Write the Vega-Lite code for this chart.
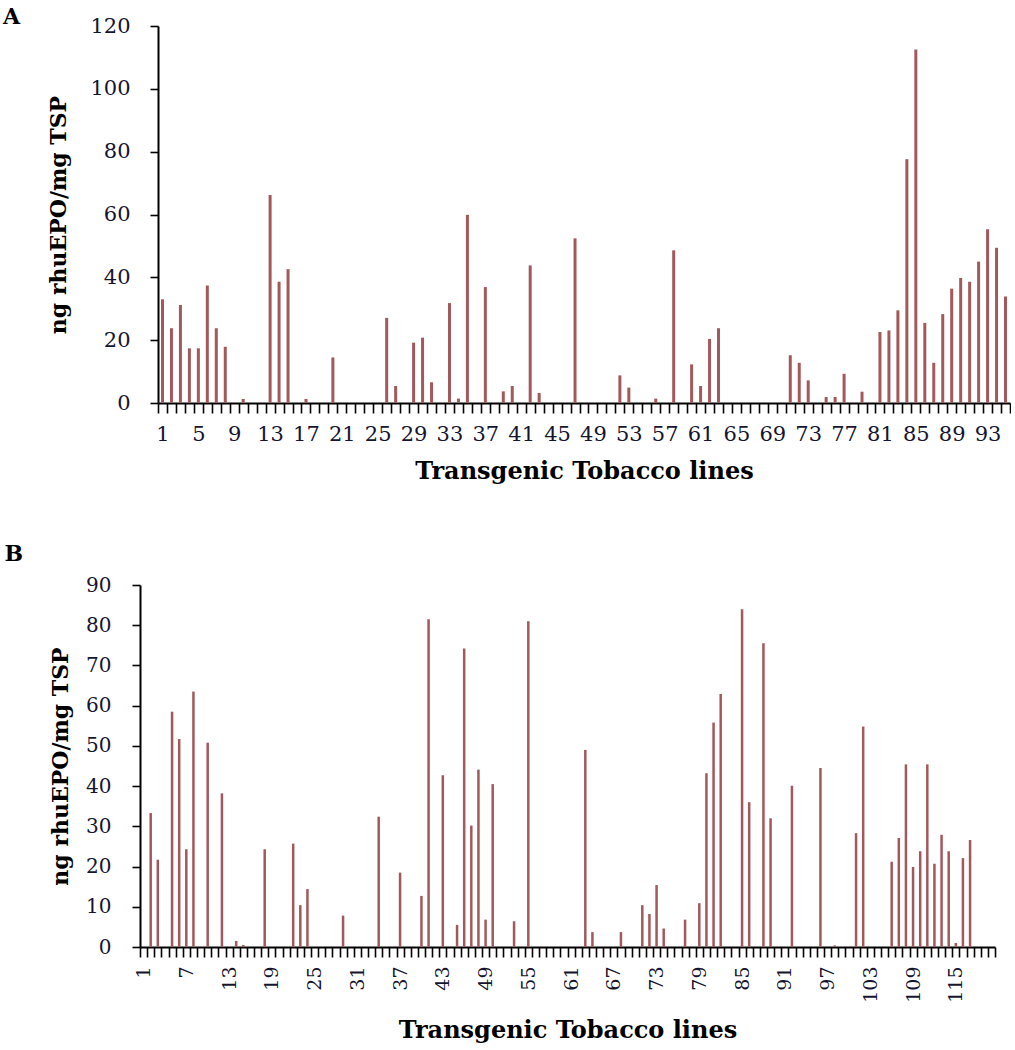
{
  "$schema": "https://vega.github.io/schema/vega-lite/v6.json",
  "padding": {"left": 2, "top": 6, "right": 0, "bottom": 0},
  "background": "white",
  "config": {
    "view": {"stroke": null},
    "font": "DejaVu Serif",
    "axis": {
      "grid": false,
      "domainColor": "#000000",
      "domainWidth": 2,
      "tickColor": "#000000",
      "tickWidth": 1.6,
      "labelColor": "#151530",
      "labelFont": "DejaVu Serif",
      "titleFont": "DejaVu Serif",
      "titleFontWeight": "bold",
      "titleColor": "#000000"
    }
  },
  "datasets": {
    "a": [
      {"line": 1, "value": 33.0}, {"line": 2, "value": 23.8}, {"line": 3, "value": 31.2}, {"line": 4, "value": 17.4},
      {"line": 5, "value": 17.4}, {"line": 6, "value": 37.4}, {"line": 7, "value": 23.8}, {"line": 8, "value": 17.9},
      {"line": 9, "value": 0}, {"line": 10, "value": 1.3}, {"line": 11, "value": 0}, {"line": 12, "value": 0},
      {"line": 13, "value": 66.2}, {"line": 14, "value": 38.6}, {"line": 15, "value": 42.6}, {"line": 16, "value": 0},
      {"line": 17, "value": 1.3}, {"line": 18, "value": 0}, {"line": 19, "value": 0}, {"line": 20, "value": 14.5},
      {"line": 21, "value": 0}, {"line": 22, "value": 0}, {"line": 23, "value": 0}, {"line": 24, "value": 0},
      {"line": 25, "value": 0}, {"line": 26, "value": 27.1}, {"line": 27, "value": 5.4}, {"line": 28, "value": 0},
      {"line": 29, "value": 19.2}, {"line": 30, "value": 20.8}, {"line": 31, "value": 6.6}, {"line": 32, "value": 0},
      {"line": 33, "value": 31.8}, {"line": 34, "value": 1.4}, {"line": 35, "value": 59.9}, {"line": 36, "value": 0},
      {"line": 37, "value": 36.9}, {"line": 38, "value": 0}, {"line": 39, "value": 3.7}, {"line": 40, "value": 5.4},
      {"line": 41, "value": 0}, {"line": 42, "value": 43.8}, {"line": 43, "value": 3.2}, {"line": 44, "value": 0},
      {"line": 45, "value": 0}, {"line": 46, "value": 0}, {"line": 47, "value": 52.4}, {"line": 48, "value": 0},
      {"line": 49, "value": 0}, {"line": 50, "value": 0}, {"line": 51, "value": 0}, {"line": 52, "value": 8.8},
      {"line": 53, "value": 4.9}, {"line": 54, "value": 0}, {"line": 55, "value": 0}, {"line": 56, "value": 1.4},
      {"line": 57, "value": 0}, {"line": 58, "value": 48.6}, {"line": 59, "value": 0}, {"line": 60, "value": 12.3},
      {"line": 61, "value": 5.4}, {"line": 62, "value": 20.4}, {"line": 63, "value": 23.8}, {"line": 64, "value": 0},
      {"line": 65, "value": 0}, {"line": 66, "value": 0}, {"line": 67, "value": 0}, {"line": 68, "value": 0},
      {"line": 69, "value": 0}, {"line": 70, "value": 0}, {"line": 71, "value": 15.2}, {"line": 72, "value": 12.8},
      {"line": 73, "value": 7.2}, {"line": 74, "value": 0}, {"line": 75, "value": 1.9}, {"line": 76, "value": 1.9},
      {"line": 77, "value": 9.3}, {"line": 78, "value": 0}, {"line": 79, "value": 3.6}, {"line": 80, "value": 0},
      {"line": 81, "value": 22.6}, {"line": 82, "value": 23.1}, {"line": 83, "value": 29.5}, {"line": 84, "value": 77.6},
      {"line": 85, "value": 112.5}, {"line": 86, "value": 25.5}, {"line": 87, "value": 12.8}, {"line": 88, "value": 28.3},
      {"line": 89, "value": 36.4}, {"line": 90, "value": 39.8}, {"line": 91, "value": 38.6}, {"line": 92, "value": 45.0},
      {"line": 93, "value": 55.3}, {"line": 94, "value": 49.4}, {"line": 95, "value": 33.9}
    ],
    "b": [
      {"line": 1, "value": 0}, {"line": 2, "value": 33.3}, {"line": 3, "value": 21.7}, {"line": 4, "value": 0},
      {"line": 5, "value": 58.5}, {"line": 6, "value": 51.7}, {"line": 7, "value": 24.3}, {"line": 8, "value": 63.5},
      {"line": 9, "value": 0}, {"line": 10, "value": 50.8}, {"line": 11, "value": 0}, {"line": 12, "value": 38.2},
      {"line": 13, "value": 0}, {"line": 14, "value": 1.5}, {"line": 15, "value": 0.5}, {"line": 16, "value": 0},
      {"line": 17, "value": 0}, {"line": 18, "value": 24.3}, {"line": 19, "value": 0}, {"line": 20, "value": 0},
      {"line": 21, "value": 0}, {"line": 22, "value": 25.7}, {"line": 23, "value": 10.4}, {"line": 24, "value": 14.4},
      {"line": 25, "value": 0}, {"line": 26, "value": 0}, {"line": 27, "value": 0}, {"line": 28, "value": 0},
      {"line": 29, "value": 7.8}, {"line": 30, "value": 0}, {"line": 31, "value": 0}, {"line": 32, "value": 0},
      {"line": 33, "value": 0}, {"line": 34, "value": 32.4}, {"line": 35, "value": 0}, {"line": 36, "value": 0},
      {"line": 37, "value": 18.5}, {"line": 38, "value": 0}, {"line": 39, "value": 0}, {"line": 40, "value": 12.7},
      {"line": 41, "value": 81.5}, {"line": 42, "value": 0}, {"line": 43, "value": 42.7}, {"line": 44, "value": 0},
      {"line": 45, "value": 5.5}, {"line": 46, "value": 74.2}, {"line": 47, "value": 30.2}, {"line": 48, "value": 44.1},
      {"line": 49, "value": 6.8}, {"line": 50, "value": 40.5}, {"line": 51, "value": 0}, {"line": 52, "value": 0},
      {"line": 53, "value": 6.4}, {"line": 54, "value": 0}, {"line": 55, "value": 81.0}, {"line": 56, "value": 0},
      {"line": 57, "value": 0}, {"line": 58, "value": 0}, {"line": 59, "value": 0}, {"line": 60, "value": 0},
      {"line": 61, "value": 0}, {"line": 62, "value": 0}, {"line": 63, "value": 49.0}, {"line": 64, "value": 3.7},
      {"line": 65, "value": 0}, {"line": 66, "value": 0}, {"line": 67, "value": 0}, {"line": 68, "value": 3.7},
      {"line": 69, "value": 0}, {"line": 70, "value": 0}, {"line": 71, "value": 10.4}, {"line": 72, "value": 8.2},
      {"line": 73, "value": 15.4}, {"line": 74, "value": 4.6}, {"line": 75, "value": 0}, {"line": 76, "value": 0},
      {"line": 77, "value": 6.8}, {"line": 78, "value": 0}, {"line": 79, "value": 10.9}, {"line": 80, "value": 43.2},
      {"line": 81, "value": 55.8}, {"line": 82, "value": 62.9}, {"line": 83, "value": 0}, {"line": 84, "value": 0},
      {"line": 85, "value": 84.0}, {"line": 86, "value": 36.0}, {"line": 87, "value": 0}, {"line": 88, "value": 75.5},
      {"line": 89, "value": 32.0}, {"line": 90, "value": 0}, {"line": 91, "value": 0}, {"line": 92, "value": 40.1},
      {"line": 93, "value": 0}, {"line": 94, "value": 0}, {"line": 95, "value": 0}, {"line": 96, "value": 44.5},
      {"line": 97, "value": 0}, {"line": 98, "value": 0.4}, {"line": 99, "value": 0}, {"line": 100, "value": 0},
      {"line": 101, "value": 28.3}, {"line": 102, "value": 54.8}, {"line": 103, "value": 0}, {"line": 104, "value": 0},
      {"line": 105, "value": 0}, {"line": 106, "value": 21.2}, {"line": 107, "value": 27.1}, {"line": 108, "value": 45.4},
      {"line": 109, "value": 19.9}, {"line": 110, "value": 23.8}, {"line": 111, "value": 45.4}, {"line": 112, "value": 20.7},
      {"line": 113, "value": 27.9}, {"line": 114, "value": 23.8}, {"line": 115, "value": 1.0}, {"line": 116, "value": 22.1},
      {"line": 117, "value": 26.6}, {"line": 118, "value": 0}, {"line": 119, "value": 0}, {"line": 120, "value": 0}
    ]
  },
  "spacing": 60,
  "vconcat": [
    {
      "width": 870,
      "height": 377,
      "title": {"text": "A", "anchor": "start", "frame": "bounds", "fontSize": 22, "fontWeight": "bold", "font": "DejaVu Serif", "color": "#000000", "dx": -45, "dy": 14, "offset": 0},
      "data": {"name": "a"},
      "mark": {"type": "bar", "width": 3, "color": "#a3585b"},
      "encoding": {
        "x": {
          "field": "line", "type": "ordinal", "sort": "ascending",
          "scale": {"paddingInner": 0, "paddingOuter": 0, "range": [18, 870]},
          "axis": {
            "title": "Transgenic Tobacco lines", "titleFontSize": 24, "titlePadding": 15,
            "labelAngle": 0, "labelFontSize": 21, "labelPadding": 10, "tickSize": 10,
            "tickBand": "extent",
            "labelExpr": "(datum.value - 1) % 4 === 0 ? datum.label : ''"
          }
        },
        "y": {
          "field": "value", "type": "quantitative",
          "scale": {"domain": [0, 120], "nice": false},
          "axis": {
            "title": "ng rhuEPO/mg  TSP", "titleFontSize": 22, "titlePadding": 19, "offset": -18,
            "values": [0, 20, 40, 60, 80, 100, 120],
            "labelFontSize": 21, "labelPadding": 20, "tickSize": 8
          }
        }
      }
    },
    {
      "width": 855,
      "height": 362,
      "title": {"text": "B", "anchor": "start", "frame": "bounds", "fontSize": 22, "fontWeight": "bold", "font": "DejaVu Serif", "color": "#000000", "dx": -45, "dy": -9, "offset": 0},
      "data": {"name": "b"},
      "mark": {"type": "bar", "width": 2.5, "color": "#a3585b"},
      "encoding": {
        "x": {
          "field": "line", "type": "ordinal", "sort": "ascending",
          "scale": {"paddingInner": 0, "paddingOuter": 0},
          "axis": {
            "title": "Transgenic Tobacco lines", "titleFontSize": 24, "titlePadding": 16,
            "labelAngle": 270, "labelFontSize": 19, "labelPadding": 9, "tickSize": 10,
            "tickBand": "extent",
            "labelExpr": "(datum.value - 1) % 6 === 0 ? datum.label : ''"
          }
        },
        "y": {
          "field": "value", "type": "quantitative",
          "scale": {"domain": [0, 90], "nice": false},
          "axis": {
            "title": "ng rhuEPO/mg  TSP", "titleFontSize": 22, "titlePadding": 13,
            "values": [0, 10, 20, 30, 40, 50, 60, 70, 80, 90],
            "labelFontSize": 20, "labelPadding": 21, "tickSize": 8
          }
        }
      }
    }
  ]
}
